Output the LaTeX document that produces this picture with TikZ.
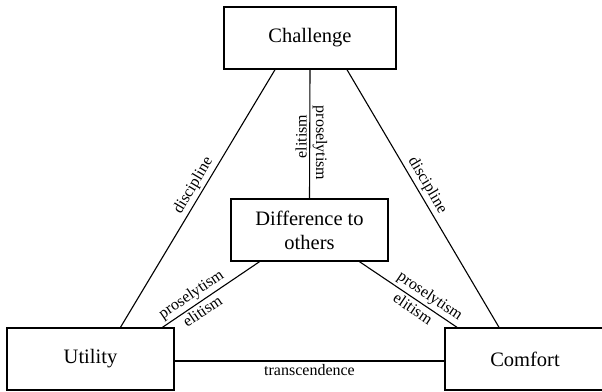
\documentclass[tikz,border=0pt]{standalone}
\usepackage{fontspec}
\setmainfont{Liberation Serif}

\begin{document}
\begin{tikzpicture}[x=1pt, y=-1pt, line width=1.1pt,
    box/.style={draw, line width=1.4pt, align=center, inner sep=0pt, font=\fontsize{20.5}{24}\selectfont},
    lbl/.style={font=\fontsize{16}{18}\selectfont, inner sep=2.5pt}]
    \useasboundingbox (0,0) rectangle (602,391);

    % Draw the four boxes
    \node[box, minimum width=172pt, minimum height=62pt] (challenge) at (310,38) {Challenge};
    \node[box, minimum width=157pt, minimum height=62pt] (diff) at (309.5,230) {Difference to\\others};
    \node[box, minimum width=167pt, minimum height=62pt] (utility) at (90.5,359) {Utility};
    \node[box, minimum width=160pt, minimum height=62pt] (comfort) at (525,359) {Comfort};

    % Outer triangle
    \draw ([xshift=-35pt]challenge.south) -- ([xshift=30pt]utility.north)
        node[lbl, pos=.47, sloped, above] {discipline};
    \draw ([xshift=37pt]challenge.south) -- ([xshift=-26pt]comfort.north)
        node[lbl, pos=.47, sloped, above] {discipline};
    \draw ([yshift=-2pt]utility.east) -- ([yshift=-2pt]comfort.west)
        node[lbl, midway, below] {transcendence};

    % Links to the middle box
    \draw (challenge.south) -- (diff.north)
        node[lbl, pos=.52, rotate=90, anchor=south] {elitism}
        node[lbl, pos=.57, rotate=-90, anchor=south] {proselytism};
    \draw ([xshift=-50pt]diff.south) -- ([xshift=72pt]utility.north)
        node[lbl, pos=.64, sloped, above] {proselytism}
        node[lbl, pos=.64, sloped, below] {elitism};
    \draw ([xshift=50pt]diff.south) -- ([xshift=-68pt]comfort.north)
        node[lbl, pos=.66, sloped, above] {proselytism}
        node[lbl, pos=.60, sloped, below] {elitism};

\end{tikzpicture}
\end{document}
